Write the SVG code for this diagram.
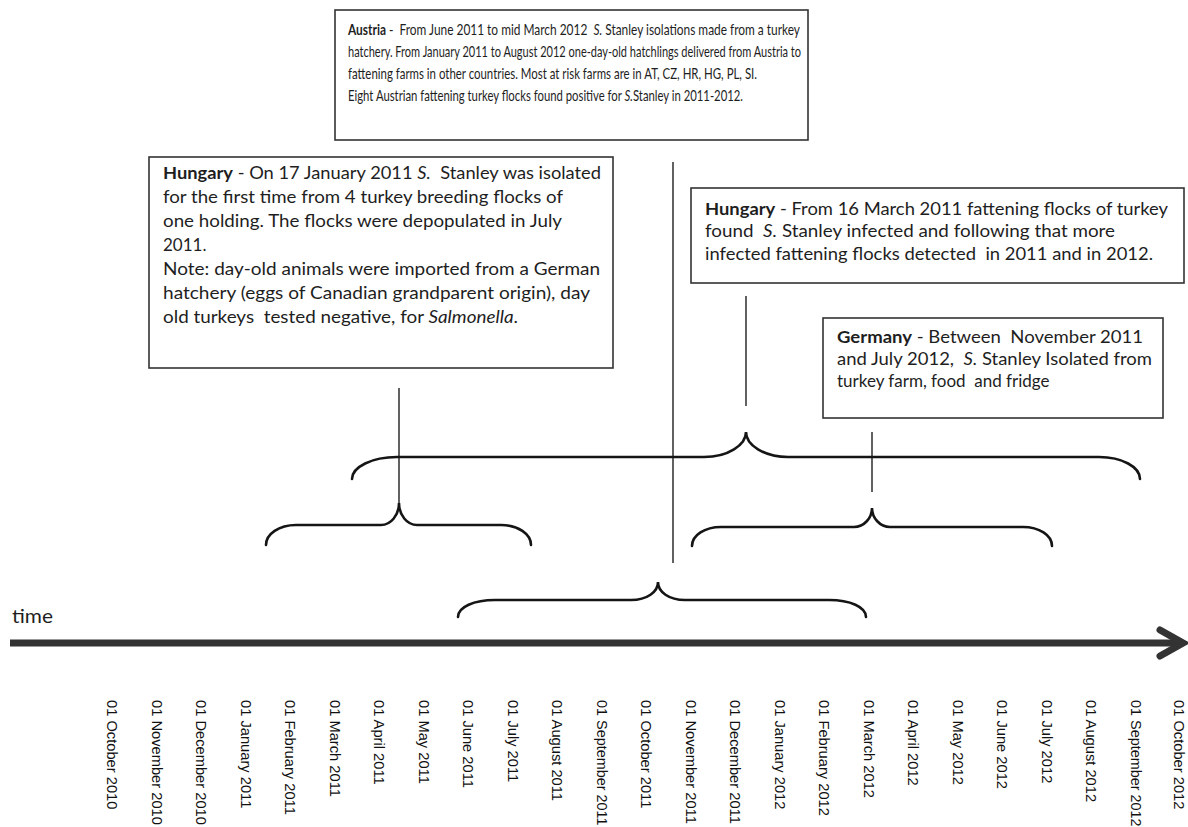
<svg xmlns="http://www.w3.org/2000/svg" width="1188" height="827" viewBox="0 0 1188 827">
<style>
.box{fill:#fff;stroke:#333;stroke-width:1.6}
.t{font-family:Lato,"Liberation Sans",sans-serif;font-size:17px;fill:#1e1e1e;white-space:pre}
.s{font-size:15px}
.b{font-weight:bold}
.i{font-style:italic}
.lbl{font-family:"Liberation Sans",Arial,sans-serif;font-size:14px;fill:#111}
.vl{stroke:#3a3a3a;stroke-width:1.6;fill:none}
.br{stroke:#151515;stroke-width:2.6;fill:none;stroke-linecap:round}
.ax{stroke:#333;stroke-width:7;fill:none}
</style>
<rect width="1188" height="827" fill="#fff"/>

<g id="austria">
<rect class="box" x="335" y="10" width="473" height="130"/>
<text class="t s" x="348" y="35" textLength="452" lengthAdjust="spacingAndGlyphs"><tspan class="b">Austria</tspan> -  From June 2011 to mid March 2012  <tspan class="i">S.</tspan> Stanley isolations made from a turkey</text>
<text class="t s" x="348" y="57" textLength="453" lengthAdjust="spacingAndGlyphs">hatchery. From January 2011 to August 2012 one-day-old hatchlings delivered from Austria to</text>
<text class="t s" x="348" y="79" textLength="409" lengthAdjust="spacingAndGlyphs">fattening farms in other countries. Most at risk farms are in AT, CZ, HR, HG, PL, SI.</text>
<text class="t s" x="348" y="101" textLength="395" lengthAdjust="spacingAndGlyphs">Eight Austrian fattening turkey flocks found positive for <tspan class="i">S.</tspan>Stanley in 2011-2012.</text>
</g>

<g id="hungary1">
<rect class="box" x="149" y="157" width="464" height="211"/>
<text class="t" x="163" y="179" textLength="438" lengthAdjust="spacingAndGlyphs"><tspan class="b">Hungary</tspan> - On 17 January 2011 <tspan class="i">S.</tspan>  Stanley was isolated</text>
<text class="t" x="163" y="203" textLength="400" lengthAdjust="spacingAndGlyphs">for the first time from 4 turkey breeding flocks of</text>
<text class="t" x="163" y="227" textLength="399" lengthAdjust="spacingAndGlyphs">one holding. The flocks were depopulated in July</text>
<text class="t" x="163" y="251">2011.</text>
<text class="t" x="163" y="275" textLength="437" lengthAdjust="spacingAndGlyphs">Note: day-old animals were imported from a German</text>
<text class="t" x="163" y="299" textLength="427" lengthAdjust="spacingAndGlyphs">hatchery (eggs of Canadian grandparent origin), day</text>
<text class="t" x="163" y="323" textLength="355" lengthAdjust="spacingAndGlyphs">old turkeys  tested negative, for <tspan class="i">Salmonella</tspan>.</text>
</g>

<g id="hungary2">
<rect class="box" x="691" y="188" width="493" height="95"/>
<text class="t" x="705" y="215" textLength="463" lengthAdjust="spacingAndGlyphs"><tspan class="b">Hungary</tspan> - From 16 March 2011 fattening flocks of turkey</text>
<text class="t" x="705" y="237" textLength="410" lengthAdjust="spacingAndGlyphs">found  <tspan class="i">S.</tspan> Stanley infected and following that more</text>
<text class="t" x="705" y="260" textLength="448" lengthAdjust="spacingAndGlyphs">infected fattening flocks detected  in 2011 and in 2012.</text>
</g>

<g id="germany">
<rect class="box" x="823" y="318" width="340" height="100"/>
<text class="t" x="837" y="343" textLength="306" lengthAdjust="spacingAndGlyphs"><tspan class="b">Germany</tspan> - Between  November 2011</text>
<text class="t" x="837" y="365" textLength="315" lengthAdjust="spacingAndGlyphs">and July 2012,  <tspan class="i">S.</tspan> Stanley Isolated from</text>
<text class="t" x="837" y="387">turkey farm, food  and fridge</text>
</g>

<g id="connectors">
<line class="vl" x1="673" y1="162" x2="673" y2="563"/>
<line class="vl" x1="399" y1="388" x2="399" y2="503"/>
<line class="vl" x1="746" y1="296" x2="746" y2="406"/>
<line class="vl" x1="872" y1="432" x2="872" y2="492"/>
<path class="br" d="M352,479 C352,467 372,457 397,457 L704,457 C728,457 746,445 746,432 C746,445 764,457 788,457 L1099,457 C1122,457 1140,467 1140,479"/>
<path class="br" d="M266,545 C266,534 279,525 296,525 L381,525 C391,525 399,515 399,503 C399,515 407,525 417,525 L501,525 C518,525 531,534 531,545"/>
<path class="br" d="M692,546 C692,535 705,527 721,527 L854,527 C864,527 872,518 872,508 C872,518 880,527 890,527 L1023,527 C1039,527 1052,535 1052,546"/>
<path class="br" d="M458,617 C458,607 474,600 495,600 L631,600 C647,600 658,592 658,582 C658,592 669,600 685,600 L829,600 C850,600 866,607 866,617"/>
</g>

<g id="axis">
<line class="ax" x1="10" y1="643" x2="1180" y2="643"/>
<polyline class="ax" points="1160,630 1183,643 1160,656" stroke-linecap="round" stroke-linejoin="miter"/>
<text x="12" y="623" font-family="Lato,'Liberation Sans',sans-serif" font-size="20" fill="#1e1e1e" textLength="41" lengthAdjust="spacingAndGlyphs">time</text>
</g>

<g id="labels" class="lbl">
<text transform="translate(107,700) rotate(90) scale(1.05,1)">01 October 2010</text>
<text transform="translate(151.5,700) rotate(90) scale(1.05,1)">01 November 2010</text>
<text transform="translate(196,700) rotate(90) scale(1.05,1)">01 December 2010</text>
<text transform="translate(240.5,700) rotate(90) scale(1.05,1)">01 January 2011</text>
<text transform="translate(285,700) rotate(90) scale(1.05,1)">01 February 2011</text>
<text transform="translate(329.5,700) rotate(90) scale(1.05,1)">01 March 2011</text>
<text transform="translate(374,700) rotate(90) scale(1.05,1)">01 April 2011</text>
<text transform="translate(418.5,700) rotate(90) scale(1.05,1)">01 May 2011</text>
<text transform="translate(463,700) rotate(90) scale(1.05,1)">01 June 2011</text>
<text transform="translate(507.5,700) rotate(90) scale(1.05,1)">01 July 2011</text>
<text transform="translate(552,700) rotate(90) scale(1.05,1)">01 August 2011</text>
<text transform="translate(596.5,700) rotate(90) scale(1.03,1)">01 September 2011</text>
<text transform="translate(641,700) rotate(90) scale(1.05,1)">01 October 2011</text>
<text transform="translate(685.5,700) rotate(90) scale(1.05,1)">01 November 2011</text>
<text transform="translate(730,700) rotate(90) scale(1.05,1)">01 December 2011</text>
<text transform="translate(774.5,700) rotate(90) scale(1.05,1)">01 January 2012</text>
<text transform="translate(819,700) rotate(90) scale(1.05,1)">01 February 2012</text>
<text transform="translate(863.5,700) rotate(90) scale(1.05,1)">01 March 2012</text>
<text transform="translate(908,700) rotate(90) scale(1.05,1)">01 April 2012</text>
<text transform="translate(952.5,700) rotate(90) scale(1.05,1)">01 May 2012</text>
<text transform="translate(997,700) rotate(90) scale(1.05,1)">01 June 2012</text>
<text transform="translate(1041.5,700) rotate(90) scale(1.05,1)">01 July 2012</text>
<text transform="translate(1086,700) rotate(90) scale(1.05,1)">01 August 2012</text>
<text transform="translate(1130.5,700) rotate(90) scale(1.03,1)">01 September 2012</text>
<text transform="translate(1174,700) rotate(90) scale(1.05,1)">01 October 2012</text>
</g>
</svg>
